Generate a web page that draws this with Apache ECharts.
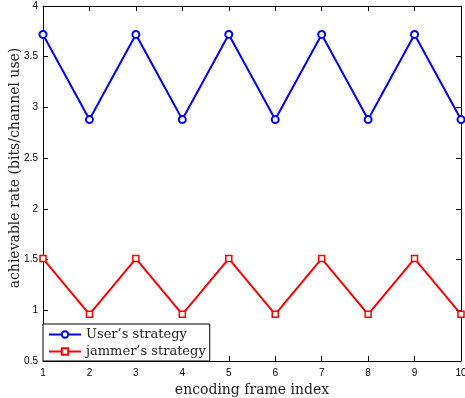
<!DOCTYPE html>
<html><head><meta charset="utf-8">
<script src="https://cdn.jsdelivr.net/npm/echarts@6/dist/echarts.min.js"></script>
<style>html,body{margin:0;padding:0;background:#fff}#c{width:465px;height:398px}</style>
</head><body><div id="c"></div>
<script>
const frames = [1,2,3,4,5,6,7,8,9,10];
const userRate = [3.72,2.88,3.72,2.88,3.72,2.88,3.72,2.88,3.72,2.88];
const jammerRate = [1.51,0.96,1.51,0.96,1.51,0.96,1.51,0.96,1.51,0.96];
const seriesNames = ['User\u2019s strategy','jammer\u2019s strategy'];
const xLabel = 'encoding frame index';
const yLabel = 'achievable rate (bits/channel use)';

const serif = 'DejaVu Serif';
const sans = 'Liberation Sans';
const chart = echarts.init(document.getElementById('c'), null, {renderer:'canvas'});
const grid = {left:43, right:4, top:6, bottom:37, containLabel:false, outerBoundsMode:'none'};
const lineAx = {show:true, lineStyle:{color:'#000', width:1}};
const tick = {show:true, inside:true, length:5, lineStyle:{color:'#000'}};
chart.setOption({
  animation:false,
  grid: grid,
  graphic: [{
    type:'text', x:15, y:168, rotation:Math.PI/2, silent:true,
    style:{text:yLabel, font:'14px "DejaVu Serif"', fill:'#222', align:'center', verticalAlign:'middle'}
  }],
  legend: {
    orient:'vertical', left:43, bottom:37, itemWidth:32, itemHeight:8, itemGap:4,
    padding:[4,4,3,5],
    borderColor:'#000', borderWidth:1, backgroundColor:'#fff',
    textStyle:{fontFamily:serif, fontSize:13, color:'#222'},
    data: seriesNames
  },
  xAxis: [{
    type:'value', min:1, max:10, interval:1,
    axisLine:lineAx, axisTick:tick, splitLine:{show:false},
    axisLabel:{fontFamily:sans, fontSize:10, color:'#000', margin:7},
    name:xLabel, nameLocation:'middle', nameGap:22,
    nameTextStyle:{fontFamily:serif, fontSize:14, color:'#222'}
  },{
    type:'value', position:'top', min:1, max:10, interval:1,
    axisLine:lineAx, axisTick:tick, splitLine:{show:false}, axisLabel:{show:false}
  }],
  yAxis: [{
    type:'value', min:0.5, max:4, interval:0.5,
    axisLine:lineAx, axisTick:tick, splitLine:{show:false},
    axisLabel:{fontFamily:sans, fontSize:10, color:'#000', margin:5}
  },{
    type:'value', position:'right', min:0.5, max:4, interval:0.5,
    axisLine:lineAx, axisTick:tick, splitLine:{show:false}, axisLabel:{show:false}
  }],
  series: [{
    name:seriesNames[0], type:'line',
    data: frames.map((f,i)=>[f,userRate[i]]),
    symbol:'circle', symbolSize:7, showAllSymbol:true,
    lineStyle:{color:'#0000ff', width:2},
    itemStyle:{color:'#fff', borderColor:'#0000ff', borderWidth:2},
    emphasis:{disabled:true}, z:3
  },{
    name:seriesNames[1], type:'line',
    data: frames.map((f,i)=>[f,jammerRate[i]]),
    symbol:'rect', symbolSize:6, showAllSymbol:true,
    lineStyle:{color:'#ff0000', width:2},
    itemStyle:{color:'#fff', borderColor:'#ff0000', borderWidth:1.5},
    emphasis:{disabled:true}, z:3
  }]
});
</script></body></html>
